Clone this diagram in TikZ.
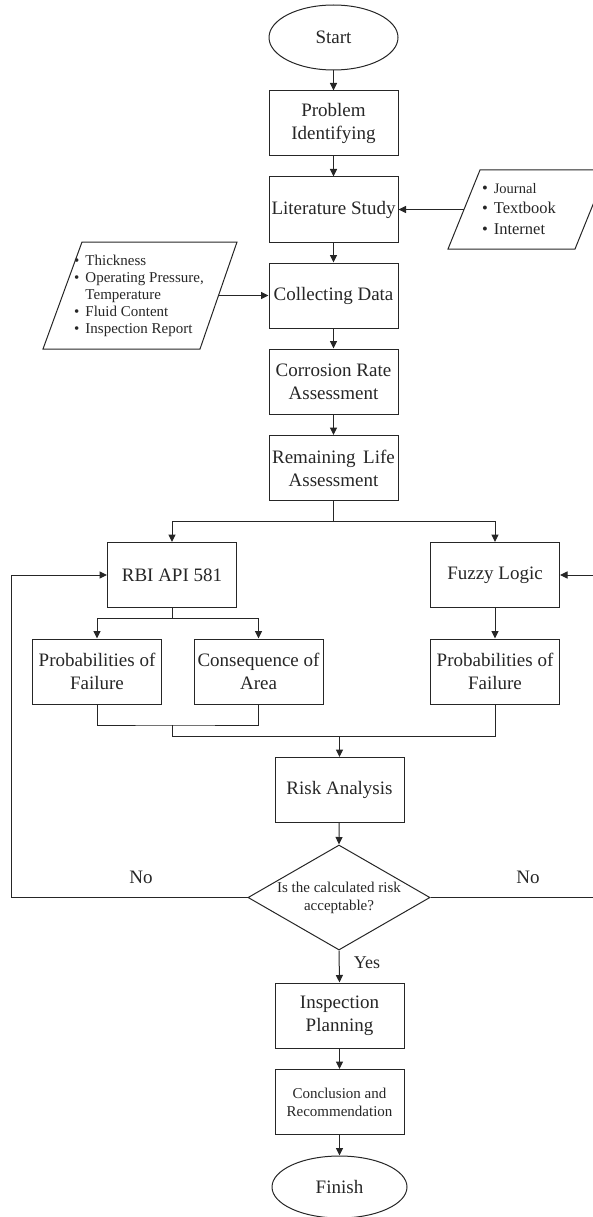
\documentclass[tikz,border=0pt]{standalone}
\usepackage{fontspec}
\setmainfont{Liberation Serif}
\newfontfamily\tnr{Liberation Serif}
\usetikzlibrary{shapes.geometric,arrows.meta,calc}
\begin{document}
\begin{tikzpicture}[x=1pt,y=-1pt,line width=1pt,color=black!85,
  box/.style={draw,rectangle,minimum width=129pt,minimum height=65pt,inner sep=0pt,align=center,font=\tnr\fontsize{19}{23}\selectfont},
  term/.style={draw,ellipse,minimum width=129pt,minimum height=65pt,inner sep=0pt,font=\tnr\fontsize{19}{23}\selectfont},
  arr/.style={-{Triangle[length=7.5pt,width=7pt]}},
  lbl/.style={inner sep=0pt,font=\tnr\fontsize{19}{23}\selectfont},
  smallfont/.style={font=\tnr\fontsize{15}{18}\selectfont}]
\useasboundingbox (0,0) rectangle (593,1217);

% main column
\node[term] (start) at (333.5,37.5) {Start};
\node[box] (prob) at (333.5,123.5) {Problem\\Identifying};
\node[box] (lit) at (333.5,209.5) {Literature Study};
\node[box] (coll) at (333.5,295.5) {Collecting Data};
\node[box] (corr) at (333.5,381.5) {Corrosion Rate\\Assessment};
\node[box] (rem) at (333.5,468) {Remaining\hspace{3pt} Life\\Assessment};
\node[box] (rbi) at (172,575) {RBI API 581};
\node[box] (fuzzy) at (495,575) {Fuzzy Logic};
\node[box] (pof1) at (97,671.5) {Probabilities of\\Failure};
\node[box] (coa) at (258.5,671.5) {Consequence of\\Area};
\node[box] (pof2) at (495,671.5) {Probabilities of\\Failure};
\node[box] (risk) at (339.5,790) {Risk Analysis};
\node[draw,diamond,aspect=1.73,inner sep=0pt,minimum width=182pt,minimum height=105pt,align=center,smallfont] (dec) at (339,897.5) {Is the calculated risk\\acceptable?};
\node[box] (insp) at (339.5,1015.5) {Inspection\\Planning};
\node[box,smallfont] (concl) at (339.5,1102) {Conclusion and\\Recommendation};
\node[term,minimum width=135pt,minimum height=62pt] (finish) at (339.5,1187) {Finish};

% input parallelograms
\draw (448,249) -- (480,170) -- (607,170) -- (575,249) -- cycle;
\coordinate (jsrc) at (464,209.5);
\node[inner sep=0pt,anchor=center] (jlist) at (519,209.5) {\tnr\fontsize{16.5}{20.5}\selectfont
  \begin{tabular}{@{}l@{\hspace{6pt}}l@{}}
  \textbullet & {\fontsize{14.5}{20.5}\selectfont Journal}\\
  \textbullet & Textbook\\
  \textbullet & Internet
  \end{tabular}};

\draw (82,242) -- (237,242) -- (200,349) -- (43,349) -- cycle;
\coordinate (dsrc) at (218,295.5);
\node[inner sep=0pt,anchor=center] (dlist) at (139,296) {\tnr\fontsize{15}{17}\selectfont
  \begin{tabular}{@{}l@{\hspace{6pt}}l@{}}
  \textbullet & Thickness\\
  \textbullet & Operating Pressure,\\
   & Temperature\\
  \textbullet & Fluid Content\\
  \textbullet & Inspection Report
  \end{tabular}};

% connectors
\draw[arr] (start) -- (prob);
\draw[arr] (prob) -- (lit);
\draw[arr] (jsrc) -- (lit.east);
\draw[arr] (lit) -- (coll);
\draw[arr] (dsrc) -- (coll.west);
\draw[arr] (coll) -- (corr);
\draw[arr] (corr) -- (rem);

\coordinate (s1) at (333.5,521);
\draw (rem.south) -- (s1);
\draw[arr] (s1) -| (rbi.north);
\draw[arr] (s1) -| (fuzzy.north);

\coordinate (s2) at (172,618);
\draw (rbi.south) -- (s2);
\draw[arr] (s2) -| (pof1.north);
\draw[arr] (s2) -| (coa.north);
\draw[arr] (fuzzy) -- (pof2);

\coordinate (m1) at (172.5,725);
\coordinate (m2) at (172.5,736);
\coordinate (m3) at (339.5,736);
\draw (pof1.south) |- (m1) -| (coa.south);
\draw (m1) -- (m2) -| (pof2.south);
\draw[arr] (m3) -- (risk.north);
\draw[arr] (risk) -- (dec.north);

\coordinate (lb) at (11,897.5);
\coordinate (rb) at (596,897.5);
\draw[arr] (dec.west) -- (lb) |- (rbi.west);
\draw[arr] (dec.east) -- (rb) |- (fuzzy.east);
\node[lbl] (nol) at (141,877) {No};
\node[lbl] (nor) at (528,877) {No};

\draw[arr] (dec.south) -- (insp.north);
\node[lbl,font=\tnr\fontsize{18}{22}\selectfont] (yes) at (367,963) {Yes};
\draw[arr] (insp) -- (concl);
\draw[arr] (concl) -- (finish);
\end{tikzpicture}
\end{document}
